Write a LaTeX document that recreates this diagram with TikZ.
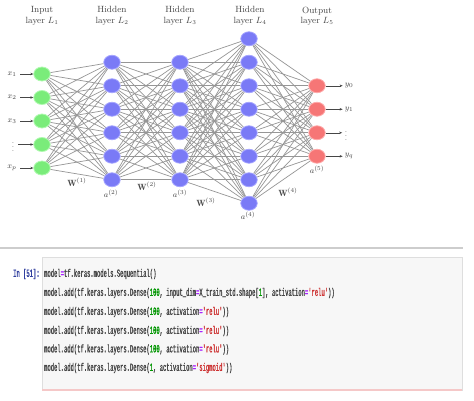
\documentclass[tikz,border=0pt]{standalone}
\usepackage{fontspec}
\usetikzlibrary{shapes.geometric,backgrounds,arrows.meta}
\newfontfamily\codefont[FakeStretch=0.5,FakeBold=1.2,Ligatures=TeXOff]{Liberation Mono}
\definecolor{nblue}{RGB}{122,122,246}
\definecolor{nblueb}{RGB}{165,165,255}
\definecolor{ngreen}{RGB}{122,236,122}
\definecolor{ngreenb}{RGB}{175,250,175}
\definecolor{nred}{RGB}{246,118,118}
\definecolor{nredb}{RGB}{255,170,170}
\definecolor{edgec}{RGB}{150,150,150}
\definecolor{labc}{RGB}{70,70,70}
\definecolor{codebg}{RGB}{247,247,247}
\definecolor{codebd}{RGB}{222,222,222}
\definecolor{codepink}{RGB}{245,200,200}
\definecolor{rulec}{RGB}{205,205,205}
\definecolor{codetxt}{RGB}{70,70,70}
\definecolor{copc}{RGB}{170,34,255}
\definecolor{cnumc}{RGB}{0,150,0}
\definecolor{cstrc}{RGB}{205,50,50}
\definecolor{promptc}{RGB}{48,63,159}
\newcommand\cop[1]{\textcolor{copc}{#1}}
\newcommand\cnum[1]{\textcolor{cnumc}{#1}}
\newcommand\cstr[1]{\textcolor{cstrc}{#1}}
\begin{document}
\begin{tikzpicture}[x=1pt,y=-1pt,
  neuron/.style={ellipse,minimum width=16.5pt,minimum height=14pt,inner sep=0pt,line width=0.8pt},
  inp/.style={neuron,fill=ngreen,draw=ngreenb},
  hid/.style={neuron,fill=nblue,draw=nblueb},
  outn/.style={neuron,fill=nred,draw=nredb},
  edge/.style={draw=edgec,line width=0.7pt},
  ioarrow/.style={draw=labc,line width=0.5pt,shorten <=2.5pt,-{Stealth[length=3pt,width=2.5pt]}},
  lab/.style={text=labc,font=\fontsize{8.5}{10}\selectfont,inner sep=1pt},
  dotlab/.style={text=labc,font=\fontsize{8}{9}\selectfont,inner xsep=1.5pt,inner ysep=0pt},
  wlab/.style={text=labc,font=\fontsize{9}{10}\selectfont,inner sep=1pt},
  layerlab/.style={text=labc,font=\fontsize{9}{10.5}\selectfont,align=center,inner sep=0pt},
  codeline/.style={anchor=west,inner sep=0pt,text=codetxt,font=\codefont\fontsize{11}{13}\selectfont}
]
\useasboundingbox (0,0) rectangle (474,400);

% layer titles
\node[layerlab] (t1) at (42,16) {Input\\layer $L_1$};
\node[layerlab] (t2) at (112,16) {Hidden\\layer $L_2$};
\node[layerlab] (t3) at (180,16) {Hidden\\layer $L_3$};
\node[layerlab] (t4) at (250,16) {Hidden\\layer $L_4$};
\node[layerlab] (t5) at (317,16) {Output\\layer $L_5$};

% neurons
\foreach \i in {1,...,5} \node[inp] (I\i) at (42,{74+23.5*(\i-1)}) {};
\foreach \i in {1,...,6} \node[hid] (A\i) at (112,{62.25+23.5*(\i-1)}) {};
\foreach \i in {1,...,6} \node[hid] (B\i) at (180,{62.25+23.5*(\i-1)}) {};
\foreach \i in {1,...,8} \node[hid] (C\i) at (249,{38.75+23.5*(\i-1)}) {};
\foreach \i in {1,...,4} \node[outn] (D\i) at (317,{85.75+23.5*(\i-1)}) {};

\begin{scope}[on background layer]
  \fill[white] (0,0) rectangle (474,400);
  \foreach \i in {1,...,5} \foreach \j in {1,...,6} \draw[edge] (I\i) -- (A\j);
  \foreach \i in {1,...,6} \foreach \j in {1,...,6} \draw[edge] (A\i) -- (B\j);
  \foreach \i in {1,...,6} \foreach \j in {1,...,8} \draw[edge] (B\i) -- (C\j);
  \foreach \i in {1,...,8} \foreach \j in {1,...,4} \draw[edge] (C\i) -- (D\j);
\end{scope}

% inputs
\node[lab] (x1) at (12,74) {$x_1$};
\node[lab] (x2) at (12,97.5) {$x_2$};
\node[lab] (x3) at (12,121) {$x_3$};
\node[dotlab] (x4) at (13,144.5) {$\vdots$};
\node[lab] (x5) at (12,168) {$x_p$};
\foreach \i in {1,...,5} \draw[ioarrow] (x\i) -- (I\i);

% outputs
\node[lab] (y1) at (349,85.75) {$y_0$};
\node[lab] (y2) at (349,109.25) {$y_1$};
\node[dotlab] (y3) at (346,132.75) {$\vdots$};
\node[lab] (y4) at (349,156.25) {$y_q$};
\foreach \i in {1,...,4} \draw[ioarrow,shorten <=0pt,shorten >=1pt] (D\i) -- (y\i);

% weights and activations
\node[wlab] (w1) at (77,182) {$\mathbf{W}^{(1)}$};
\node[lab] (a2) at (111,194) {$a^{(2)}$};
\node[wlab] (w2) at (147,186) {$\mathbf{W}^{(2)}$};
\node[lab] (a3) at (180,194) {$a^{(3)}$};
\node[wlab] (w3) at (206,202) {$\mathbf{W}^{(3)}$};
\node[lab] (a4) at (248,216) {$a^{(4)}$};
\node[wlab] (w4) at (288,192) {$\mathbf{W}^{(4)}$};
\node[lab] (a5) at (317,170) {$a^{(5)}$};

% separator
\draw[rulec,line width=1.5pt] (0,248) -- (463,248);

% code cell
\draw[fill=codebg,draw=codebd,line width=0.8pt] (42,257) rectangle (462,390);
\draw[codepink,line width=2pt] (42,390) -- (462,390);
\node[codeline,text=promptc] (prompt) at (13,274) {In [51]:};
\node[codeline] (c1) at (44,274) {model\cop{=}tf.keras.models.Sequential()};
\node[codeline] (c2) at (44,293) {model.add(tf.keras.layers.Dense(\cnum{100}, input\_dim\cop{=}X\_train\_std.shape[\cnum{1}], activation\cop{=}\cstr{'relu'}))};
\node[codeline] (c3) at (44,312) {model.add(tf.keras.layers.Dense(\cnum{100}, activation\cop{=}\cstr{'relu'}))};
\node[codeline] (c4) at (44,331) {model.add(tf.keras.layers.Dense(\cnum{100}, activation\cop{=}\cstr{'relu'}))};
\node[codeline] (c5) at (44,349.5) {model.add(tf.keras.layers.Dense(\cnum{100}, activation\cop{=}\cstr{'relu'}))};
\node[codeline] (c6) at (44,368) {model.add(tf.keras.layers.Dense(\cnum{1}, activation\cop{=}\cstr{'sigmoid'}))};
\end{tikzpicture}
\end{document}
